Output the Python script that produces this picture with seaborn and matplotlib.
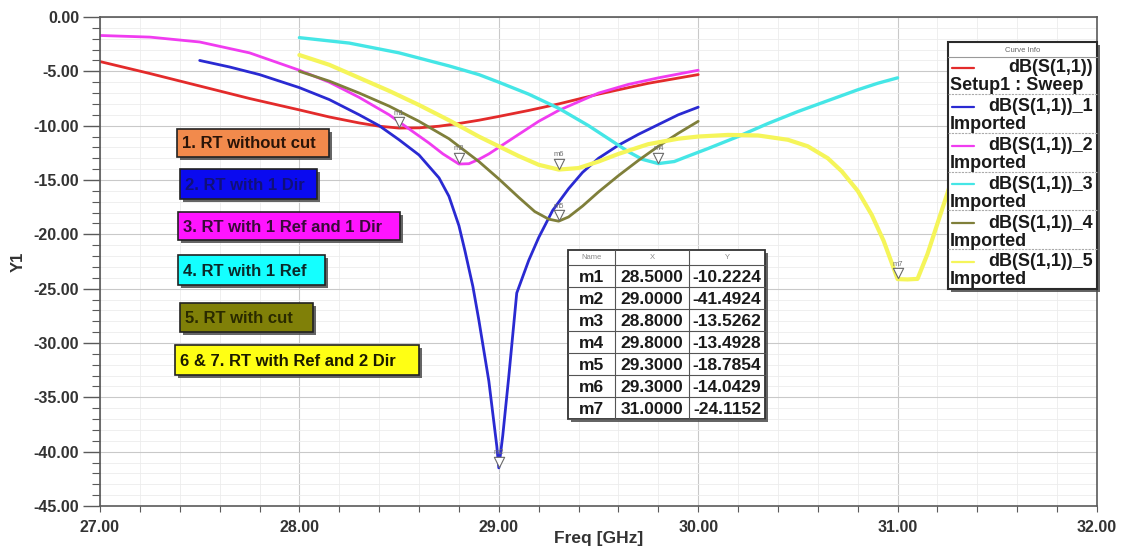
import numpy as np
import pandas as pd
import seaborn as sns
import matplotlib.pyplot as plt
from matplotlib.patches import Rectangle
from matplotlib.ticker import MultipleLocator, FormatStrFormatter
from matplotlib.transforms import offset_copy

# ---- curve data: frequency [GHz] and dB(S11) ----
red_f = [27.0, 27.25, 27.5, 27.75, 28.0, 28.15, 28.3, 28.4, 28.5, 28.6, 28.7, 28.8, 28.9, 29.0,
         29.15, 29.3, 29.5, 29.75, 30.0]
red_db = [-4.1, -5.2, -6.35, -7.5, -8.55, -9.2, -9.75, -10.05, -10.22, -10.2, -10.05, -9.8, -9.5,
          -9.15, -8.6, -8.0, -7.1, -6.1, -5.3]

blue_f = [27.5, 27.65, 27.8, 28.0, 28.15, 28.3, 28.4, 28.5, 28.6, 28.7, 28.75, 28.8, 28.83, 28.87,
          28.9, 28.95, 28.99, 29.0, 29.02, 29.05, 29.09, 29.15, 29.2, 29.27, 29.35, 29.42, 29.5,
          29.6, 29.7, 29.8, 29.9, 30.0]
blue_db = [-4.0, -4.6, -5.3, -6.5, -7.6, -9.0, -10.0, -11.3, -12.7, -14.8, -16.5, -19.2, -21.5,
           -24.8, -27.9, -33.5, -39.5, -41.49, -38.5, -33.1, -25.4, -22.4, -20.3, -17.8, -15.8,
           -14.3, -13.0, -11.8, -10.8, -9.9, -9.0, -8.3]

magenta_f = [27.0, 27.25, 27.5, 27.75, 28.0, 28.15, 28.3, 28.45, 28.55, 28.65, 28.72, 28.8, 28.85,
             28.9, 28.95, 29.0, 29.1, 29.2, 29.3, 29.4, 29.5, 29.65, 29.8, 30.0]
magenta_db = [-1.7, -1.85, -2.3, -3.3, -4.9, -6.0, -7.4, -9.0, -10.3, -11.6, -12.6, -13.53, -13.5,
              -13.1, -12.6, -12.0, -10.8, -9.6, -8.6, -7.8, -7.0, -6.2, -5.6, -4.9]

cyan_f = [28.0, 28.25, 28.5, 28.75, 28.9, 29.0, 29.15, 29.3, 29.45, 29.55, 29.65, 29.72, 29.8,
          29.88, 29.95, 30.05, 30.2, 30.35, 30.5, 30.65, 30.8, 30.9, 31.0]
cyan_db = [-1.9, -2.4, -3.3, -4.5, -5.3, -6.0, -7.1, -8.4, -10.0, -11.2, -12.4, -13.1, -13.49,
           -13.3, -12.8, -12.1, -11.0, -9.8, -8.7, -7.7, -6.7, -6.1, -5.6]

olive_f = [28.0, 28.15, 28.3, 28.45, 28.6, 28.75, 28.9, 29.0, 29.1, 29.18, 29.25, 29.3, 29.35,
           29.42, 29.5, 29.6, 29.7, 29.8, 29.9, 30.0]
olive_db = [-5.0, -5.9, -7.0, -8.2, -9.6, -11.2, -13.3, -14.9, -16.6, -17.9, -18.6, -18.79, -18.4,
            -17.4, -16.1, -14.6, -13.2, -11.9, -10.7, -9.6]

yellow_f = [28.0, 28.15, 28.3, 28.45, 28.6, 28.75, 28.9, 29.0, 29.1, 29.2, 29.3, 29.4, 29.5, 29.6,
            29.75, 29.9, 30.0, 30.15, 30.3, 30.45, 30.55, 30.65, 30.72, 30.8, 30.87, 30.93, 30.97,
            31.0, 31.05, 31.1, 31.15, 31.2, 31.25, 31.3, 31.35]
yellow_db = [-3.5, -4.4, -5.6, -6.8, -8.1, -9.5, -11.0, -11.9, -12.8, -13.6, -14.04, -13.9, -13.3,
             -12.6, -11.7, -11.2, -11.0, -10.85, -10.9, -11.3, -11.9, -13.0, -14.2, -16.0, -18.2,
             -20.6, -22.6, -24.12, -24.15, -24.1, -21.8, -19.0, -16.2, -13.4, -11.0]

curve_colors = ["#E32B2B", "#2A2AD2", "#F03CF0", "#45E6E6", "#7F7F3A", "#F5F55A"]
curve_widths = [2.0, 2.0, 2.0, 2.4, 2.0, 3.0]

# ---- markers (table values) ----
mk_names = ["m1", "m2", "m3", "m4", "m5", "m6", "m7"]
mk_x = [28.5, 29.0, 28.8, 29.8, 29.3, 29.3, 31.0]
mk_y = [-10.2224, -41.4924, -13.5262, -13.4928, -18.7854, -14.0429, -24.1152]

# ---- annotation boxes ----
label_texts = ["1. RT without cut", "2. RT with 1 Dir", "3. RT with 1 Ref and 1 Dir",
               "4. RT with 1 Ref", "5. RT with cut", "6 & 7. RT with Ref and 2 Dir"]
label_fc = ["#F28A4C", "#0A0AF0", "#FF14FF", "#14FFFF", "#808008", "#FFFF14"]
label_tc = ["#2a1408", "#10107a", "#3a0a3a", "#0a2a2a", "#2a2a00", "#1a1a00"]

legend_top = ["dB(S(1,1))", "dB(S(1,1))_1", "dB(S(1,1))_2", "dB(S(1,1))_3", "dB(S(1,1))_4",
              "dB(S(1,1))_5"]
legend_bottom = ["Setup1 : Sweep", "Imported", "Imported", "Imported", "Imported", "Imported"]

sns.set_style("white")
plt.rcParams["font.family"] = ["Liberation Sans", "DejaVu Sans"]

W, H = 1122, 548
fig = plt.figure(figsize=(W / 100, H / 100), dpi=100)
ax = fig.add_axes([100 / W, 1 - 506 / H, 997 / W, 489 / H])

series = [(red_f, red_db), (blue_f, blue_db), (magenta_f, magenta_db), (cyan_f, cyan_db),
          (olive_f, olive_db), (yellow_f, yellow_db)]
for (f, db), col, lw in zip(series, curve_colors, curve_widths):
    sns.lineplot(x=f, y=db, color=col, linewidth=lw, ax=ax, legend=False)

tri = offset_copy(ax.transData, fig=fig, x=0, y=6, units="dots")
ax.scatter(mk_x, mk_y, marker="v", s=55, facecolors="white", edgecolors="#6a6a6a",
           linewidths=0.8, transform=tri, zorder=5)
for n, x, y in zip(mk_names, mk_x, mk_y):
    ax.annotate(n, (x, y), xytext=(0, 15), textcoords="offset pixels", ha="center",
                va="center", fontsize=5.5, color="#707070", zorder=6)

ax.set_xlim(27, 32)
ax.set_ylim(-45, 0)
ax.xaxis.set_major_locator(MultipleLocator(1))
ax.xaxis.set_minor_locator(MultipleLocator(0.2))
ax.yaxis.set_major_locator(MultipleLocator(5))
ax.yaxis.set_minor_locator(MultipleLocator(1))
ax.xaxis.set_major_formatter(FormatStrFormatter("%.2f"))
ax.yaxis.set_major_formatter(FormatStrFormatter("%.2f"))
ax.grid(which="major", color="#c9c9c9", linewidth=0.8)
ax.grid(which="minor", color="#ececec", linewidth=0.6)
ax.set_axisbelow(True)
for s in ax.spines.values():
    s.set_color("#5a5a5a")
    s.set_linewidth(1.2)
ax.tick_params(axis="y", which="major", length=12, width=1, color="#5a5a5a", pad=3,
               labelsize=11.5, labelcolor="#333333", left=True)
ax.tick_params(axis="y", which="minor", length=6, width=0.8, color="#5a5a5a", left=True)
ax.tick_params(axis="x", which="both", length=4, width=0.8, color="#5a5a5a", pad=6,
               labelsize=11.5, labelcolor="#333333", bottom=True)
for lab in ax.get_xticklabels() + ax.get_yticklabels():
    lab.set_fontweight("bold")
ax.set_xlabel("Freq [GHz]", fontsize=12.5, fontweight="bold", color="#333333")
ax.set_ylabel("Y1", fontsize=12, fontweight="bold", color="#333333")
ax.xaxis.set_label_coords(0.5, -0.052)
ax.yaxis.set_label_coords(-0.075, 0.5)

# ---- overlay in image pixels for boxes, table and curve info ----
ov = fig.add_axes([0, 0, 1, 1], zorder=10)
ov.set_xlim(0, W)
ov.set_ylim(H, 0)
ov.axis("off")
ov.patch.set_alpha(0)


def shadow_box(x0, y0, x1, y1, fc, ec="#222222", lw=1.2, sh=3):
    ov.add_patch(Rectangle((x0 + sh, y0 + sh), x1 - x0, y1 - y0, fc="#4a4a4a", ec="none",
                           alpha=0.85))
    ov.add_patch(Rectangle((x0, y0), x1 - x0, y1 - y0, fc=fc, ec=ec, lw=lw))


box_rects = [(177, 129, 329, 157), (180, 169, 317, 199), (178, 212, 400, 240),
             (178, 255, 325, 285), (180, 303, 313, 332), (175, 345, 419, 375)]
for (x0, y0, x1, y1), txt, fc, tc in zip(box_rects, label_texts, label_fc, label_tc):
    shadow_box(x0, y0, x1, y1, fc)
    ov.text(x0 + 5, (y0 + y1) / 2 + 1, txt, ha="left", va="center", fontsize=12,
            fontweight="bold", color=tc)

# marker table
tx = [568, 615, 689, 765]
ty0, hdr, rh = 250, 15, 22
ty1 = ty0 + hdr + rh * len(mk_names)
shadow_box(tx[0], ty0, tx[-1], ty1, "white", ec="#333333", lw=1.3)
for xx in tx[1:-1]:
    ov.plot([xx, xx], [ty0, ty1], color="#555555", lw=0.8)
for i in range(len(mk_names) + 1):
    yy = ty0 + hdr + rh * i
    ov.plot([tx[0], tx[-1]], [yy, yy], color="#555555", lw=0.8)
for j, h in enumerate(["Name", "X", "Y"]):
    ov.text((tx[j] + tx[j + 1]) / 2, ty0 + hdr / 2, h, ha="center", va="center",
            fontsize=5.5, color="#888888")
for i, (n, x, y) in enumerate(zip(mk_names, mk_x, mk_y)):
    yc = ty0 + hdr + rh * i + rh / 2 + 1
    for j, s in enumerate([n, f"{x:.4f}", f"{y:.4f}"]):
        ov.text((tx[j] + tx[j + 1]) / 2, yc, s, ha="center", va="center", fontsize=12.5,
                fontweight="bold", color="#1a1a1a")

# curve info box
lx0, ly0, lx1, ly1 = 948, 42, 1097, 289
shadow_box(lx0, ly0, lx1, ly1, "white", ec="#2a2a2a", lw=1.5)
ov.text((lx0 + lx1) / 2, 50, "Curve Info", ha="center", va="center", fontsize=5.5,
        color="#666666")
ov.plot([lx0, lx1], [57, 57], color="#999999", lw=0.8)
for i, (t, b, col) in enumerate(zip(legend_top, legend_bottom, curve_colors)):
    yt = 68 + 38.8 * i
    ov.plot([952, 974], [yt, yt], color=col, lw=1.6)
    ov.text(lx1 - 4, yt, t, ha="right", va="center", fontsize=13, fontweight="bold",
            color="#1a1a1a")
    ov.text(lx0 + 2, yt + 18, b, ha="left", va="center", fontsize=13, fontweight="bold",
            color="#1a1a1a")
    if i < len(legend_top) - 1:
        ov.plot([lx0, lx1], [yt + 26, yt + 26], color="#aaaaaa", lw=0.8, ls=(0, (2, 1)))

fig.savefig("out.png", dpi=100)
